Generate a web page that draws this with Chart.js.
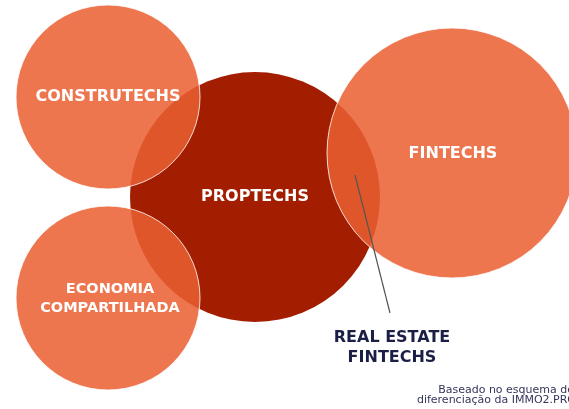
<!DOCTYPE html>
<html>
<head>
<meta charset="utf-8">
<script src="https://cdn.jsdelivr.net/npm/chart.js@4"></script>
<style>
  body { margin: 0; background: #fff; }
  canvas { display: block; }
</style>
</head>
<body>
<canvas id="venn" width="569" height="409"></canvas>
<script>
// circles of the diagram (x, y in diagram units, r in px)
const groups = ['PROPTECHS', 'CONSTRUTECHS', 'FINTECHS', 'ECONOMIA COMPARTILHADA'];
const groupX = [255, 108, 452, 108];
const groupY = [197, 97, 153, 298];
const groupR = [125, 92, 125, 92];
const labelX = [255, 108, 453, 110];
const labelY = [197, 97, 154, 299];

// pointer to the overlap label
const pointerX = [355, 390];
const pointerY = [175, 313];
const overlapLabel = ['REAL ESTATE', 'FINTECHS'];
const overlapLabelX = 392;
const overlapLabelY = [338, 358];

const sourceNote = ['Baseado no esquema de', 'diferenciação da IMMO2.PRO'];

const FONT = '"DejaVu Sans", Verdana, sans-serif';

const labelPlugin = {
    id: 'vennLabels',
    afterDatasetsDraw(chart) {
        const ctx = chart.ctx;
        const xs = chart.scales.x, ys = chart.scales.y;
        ctx.save();
        ctx.textAlign = 'center';
        ctx.textBaseline = 'middle';
        ctx.fillStyle = '#ffffff';
        groups.forEach((name, i) => {
            const px = xs.getPixelForValue(labelX[i]);
            const py = ys.getPixelForValue(labelY[i]);
            const words = name.split(' ');
            const size = words.length > 1 ? 14.5 : 16;
            ctx.font = 'bold ' + size + 'px ' + FONT;
            words.forEach((w, j) => {
                ctx.fillText(w, px, py + (j - (words.length - 1) / 2) * 19);
            });
        });
        ctx.fillStyle = '#1c1f45';
        ctx.font = 'bold 16px ' + FONT;
        overlapLabel.forEach((t, j) => {
            ctx.fillText(t, xs.getPixelForValue(overlapLabelX), ys.getPixelForValue(overlapLabelY[j]));
        });
        ctx.fillStyle = '#34365a';
        ctx.font = '11px ' + FONT;
        ctx.textAlign = 'right';
        ctx.fillText(sourceNote[0], 574, 390);
        ctx.fillText(sourceNote[1], 576, 400);
        ctx.restore();
    }
};

const colors = ['#a31e00', 'rgba(234,95,50,0.86)', 'rgba(234,95,50,0.86)', 'rgba(234,95,50,0.86)'];

new Chart(document.getElementById('venn').getContext('2d'), {
    type: 'bubble',
    data: {
        datasets: [
            {
                type: 'line',
                data: pointerX.map((x, i) => ({ x: x, y: pointerY[i] })),
                borderColor: '#555555',
                borderWidth: 1.2,
                pointRadius: 0,
                order: 0
            },
            ...groups.map((g, i) => ({
                label: g,
                data: [{ x: groupX[i], y: groupY[i], r: groupR[i] }],
                backgroundColor: colors[i],
                borderColor: i === 0 ? colors[0] : 'rgba(255,255,255,0.8)',
                borderWidth: i === 0 ? 0 : 1,
                hoverRadius: 0,
                order: 10 - i
            }))
        ]
    },
    options: {
        responsive: false,
        animation: false,
        layout: { padding: 0, autoPadding: false },
        scales: {
            x: { type: 'linear', min: 0, max: 569, display: false },
            y: { type: 'linear', min: 0, max: 409, reverse: true, display: false }
        },
        plugins: {
            legend: { display: false },
            tooltip: { enabled: false }
        },
        clip: false
    },
    plugins: [labelPlugin]
});
</script>
</body>
</html>
